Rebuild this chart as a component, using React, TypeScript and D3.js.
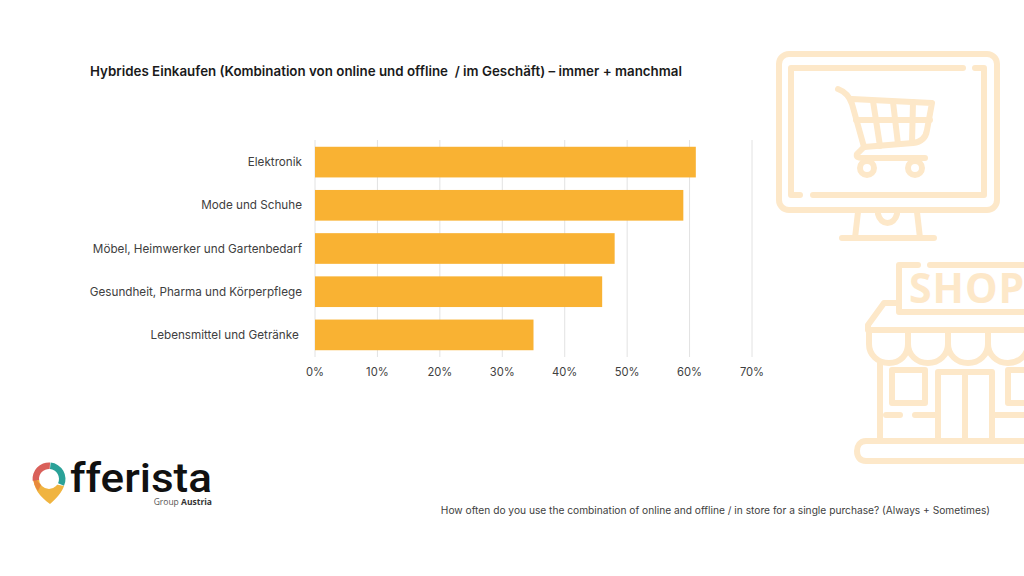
import React from "react";
import * as d3 from "d3";

const categories = [
  "Elektronik",
  "Mode und Schuhe",
  "Möbel, Heimwerker und Gartenbedarf",
  "Gesundheit, Pharma und Körperpflege",
  "Lebensmittel und Getränke\u00a0",
];
const values = [61, 59, 48, 46, 35];
const ticks = [0, 10, 20, 30, 40, 50, 60, 70];

const title = "Hybrides Einkaufen (Kombination von online und offline  / im Geschäft) – immer + manchmal";
const question = "How often do you use the combination of online and offline / in store for a single purchase? (Always + Sometimes)";

const FONT = "Inter, 'Open Sans', sans-serif";
const ICON = "#fde8c9";

const x = d3.scaleLinear().domain([0, 70]).range([315, 752]);
const y = d3.scaleBand<string>().domain(categories).range([140.5, 356.5]).paddingInner(0.29).paddingOuter(0.145);

// background icons, traced by eye
const Monitor = () => (
  <g fill="none" stroke={ICON} strokeWidth={6} strokeLinecap="round" strokeLinejoin="round">
    <rect x={779} y={54} width={218} height={156} rx={10} />
    <path d="M963 68H791V195H800M813 195H984V68H975" />
    <path d="M858 212L855 238M917 212L920 238M842 238H934" />
    <path d="M878 214C881 226 894 226 897 214" />
    <path d="M838 89C846 92 850 98 852 104L864 147L913 143C922 142 926 137 927 130L932 103L852 99" />
    <path d="M856 120H930M873 101L880 146M893 102L898 144M913 102L912 143" />
    <path d="M864 147L857 154C856 157 858 158 862 158H925" />
    <circle cx={867} cy={168} r={7} />
    <circle cx={915} cy={168} r={7} />
  </g>
);

const Shop = () => (
  <g fill="none" stroke={ICON} strokeWidth={6} strokeLinecap="round" strokeLinejoin="round">
    <path d="M918 265H899V312H1030M930 265H1030" />
    <text x={909} y={303} fontFamily="'Open Sans', sans-serif" fontWeight={700} fontSize={41} fill={ICON} stroke="none" letterSpacing={1}>SHOP</text>
    <path d="M899 303H884L868 325V330H1030" />
    <path d="M869 330V344C869 355 878 363 889 363C900 363 908 355 908 344V330M908 344C908 355 917 363 928 363C939 363 948 355 948 344V330M948 344C948 355 957 363 968 363C979 363 988 355 988 344V330M988 344C988 355 997 363 1008 363C1019 363 1028 355 1028 344V330" />
    <path d="M880 363V440" />
    <path d="M892 370H925V403H892Z" />
    <path d="M938 440V372H992V440M965 372V440" />
    <path d="M1030 370H1008V403H1030" />
    <path d="M886 415H900M915 415H938M992 415H1030" />
    <path d="M1030 441H866C860 441 857 446 857 451C857 457 860 461 866 461H1030" />
  </g>
);

const ringArc = d3.arc<{ a0: number; a1: number }>()
  .innerRadius(10)
  .outerRadius(16.5)
  .startAngle((d) => d.a0)
  .endAngle((d) => d.a1);

const Logo = () => (
  <g>
    <g transform="translate(49,479)">
      <path d="M-16 -3C-16 9 -9 18 1 25C8 19 13 13 15 7L0 4Z" fill="#f0b440" />
      <path d="M-16 -3C-16 3 -14 8 -11 12L-8 6Z" fill="#e8893c" />
      <circle r={10} fill="#fff" />
      <path d={ringArc({ a0: 4.6, a1: 6.35 }) || ""} fill="#d9605a" />
      <path d={ringArc({ a0: 0.1, a1: 2.0 }) || ""} fill="#2aa198" />
    </g>
    <text x={70} y={492} fontFamily="Roboto, sans-serif" fontWeight={500} fontSize={41} fill="#111" textLength={142} lengthAdjust="spacingAndGlyphs">fferista</text>
    <text x={212} y={505} textAnchor="end" fontFamily="'Open Sans', sans-serif" fontSize={8.5} fill="#555">
      Group <tspan fontWeight={700} fill="#333">Austria</tspan>
    </text>
  </g>
);

export default function App() {
  return (
    <svg width={1024} height={576} style={{ position: "fixed", left: 0, top: 0, background: "#fff" }}>
      <Monitor />
      <Shop />

      <text x={90} y={75.5} fontFamily={FONT} fontWeight={600} fontSize={13.35} fill="#1a1a1a" xmlSpace="preserve">{title}</text>

      {ticks.map((t) => (
        <line key={t} x1={x(t)} x2={x(t)} y1={140} y2={357} stroke="#e2e2e2" strokeWidth={1} />
      ))}
      {categories.map((c, i) => (
        <rect key={c} x={x(0)} y={y(c)} width={x(values[i]) - x(0)} height={y.bandwidth()} fill="#f9b233" />
      ))}
      {categories.map((c) => (
        <text key={c} x={302} y={y(c)! + y.bandwidth() / 2 + 4} textAnchor="end" fontFamily={FONT} fontSize={11.7} fill="#404040">{c}</text>
      ))}
      {ticks.map((t) => (
        <text key={t} x={x(t)} y={376} textAnchor="middle" fontFamily={FONT} fontSize={11.2} fill="#404040">{t}%</text>
      ))}

      <Logo />
      <text x={990} y={514} textAnchor="end" fontFamily={FONT} fontSize={10.2} fill="#404040">{question}</text>
    </svg>
  );
}
